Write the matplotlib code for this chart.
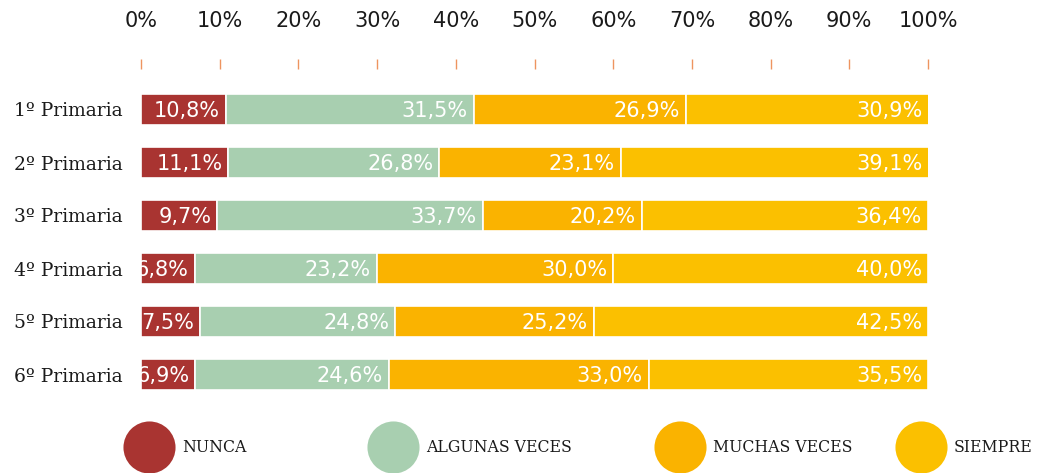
import matplotlib
matplotlib.use("Agg")
import matplotlib.pyplot as plt
from matplotlib.lines import Line2D

# Survey answers by school year (percent of pupils)
grades = ["1º Primaria", "2º Primaria", "3º Primaria",
          "4º Primaria", "5º Primaria", "6º Primaria"]
nunca = [10.8, 11.1, 9.7, 6.8, 7.5, 6.9]
algunas_veces = [31.5, 26.8, 33.7, 23.2, 24.8, 24.6]
muchas_veces = [26.9, 23.1, 20.2, 30.0, 25.2, 33.0]
siempre = [30.9, 39.1, 36.4, 40.0, 42.5, 35.5]

series_names = ["NUNCA", "ALGUNAS VECES", "MUCHAS VECES", "SIEMPRE"]
series_colors = ["#A93431", "#A8CFB0", "#FAB300", "#FBC000"]
tick_values = [0, 10, 20, 30, 40, 50, 60, 70, 80, 90, 100]
tick_labels = [f"{v}%" for v in tick_values]

W, H = 1038, 473
fig = plt.figure(figsize=(W / 100, H / 100), dpi=100)
ax = fig.add_axes([141 / W, (H - 401) / H, 787 / W, 318 / H])

series = [nunca, algunas_veces, muchas_veces, siempre]
ypos = list(range(len(grades)))
left = [0.0] * len(grades)
pad = 6 * 100 / 787  # label inset from segment end, in data units

for k, (vals, color) in enumerate(zip(series, series_colors)):
    ax.barh(ypos, vals, left=left, height=0.585, color=color,
            edgecolor="white", linewidth=1.2, zorder=2 + 2 * k)
    for y, l, v in zip(ypos, left, vals):
        ax.text(l + v - pad, y + 0.02, f"{v:.1f}%".replace(".", ","),
                ha="right", va="center", color="white", fontsize=15,
                family="DejaVu Sans", zorder=3 + 2 * k)
    left = [l + v for l, v in zip(left, vals)]

ax.set_xlim(0, 100)
ax.set_ylim(len(grades) - 0.5, -0.5)

for s in ax.spines.values():
    s.set_visible(False)
ax.spines["top"].set_position(("outward", 10))

ax.xaxis.tick_top()
ax.set_xticks(tick_values)
ax.set_xticklabels(tick_labels)
ax.tick_params(axis="x", direction="out", length=7.2, width=1.0,
               color="#EE9460", pad=20.5, labelsize=15, labelcolor="#1a1a1a")
for lab in ax.get_xticklabels():
    lab.set_family("DejaVu Sans")

ax.set_yticks(ypos)
ax.set_yticklabels(grades)
ax.tick_params(axis="y", length=0, pad=13.5, labelsize=13.5, labelcolor="#1a1a1a")
for lab in ax.get_yticklabels():
    lab.set_family("DejaVu Serif")

# Legend row with round markers
legend_x = [149, 393, 680, 921]
for x, name, color in zip(legend_x, series_names, series_colors):
    fig.add_artist(Line2D([x / W], [(H - 447) / H], marker="o", markersize=37.5,
                          color=color, markeredgewidth=0, transform=fig.transFigure))
    fig.text((x + 33) / W, (H - 447) / H, name, ha="left", va="center",
             fontsize=11.3, family="DejaVu Serif", color="#1a1a1a")

fig.savefig("out.png", dpi=100)
